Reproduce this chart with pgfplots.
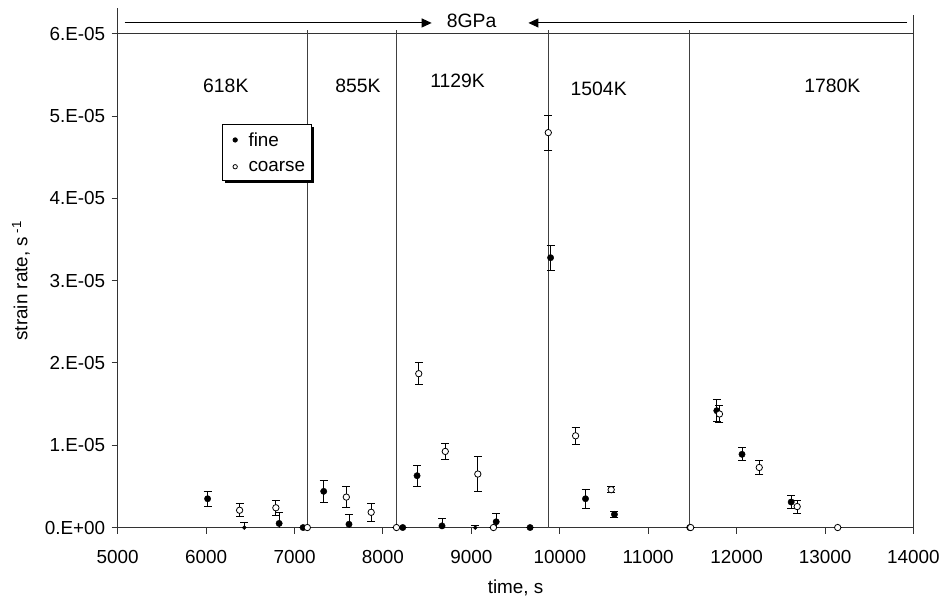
\documentclass[border=0pt]{standalone}
\usepackage{fontspec}
\setmainfont{Liberation Sans}
\usepackage{pgfplots}
\usepackage{pgfplotstable}
\pgfplotsset{compat=1.18}
\usetikzlibrary{arrows.meta,shadows}

\pgfplotstableread{
t v e
6017 3.5e-6 0.9e-6
6826 0.5e-6 1.3e-6
7097 0 0
7330 4.4e-6 1.3e-6
7616 0.4e-6 1.2e-6
8224 0 0
8386 6.3e-6 1.3e-6
8668 0.2e-6 0.9e-6
9281 0.7e-6 1.0e-6
9664 0 0
9896 32.8e-6 1.55e-6
10291 3.5e-6 1.15e-6
10618 1.6e-6 0.4e-6
11470 0 0
11776 14.2e-6 1.35e-6
12061 8.9e-6 0.8e-6
12617 3.1e-6 0.8e-6
}\fine

\pgfplotstableread{
t v e
6379 2.1e-6 0.8e-6
6789 2.4e-6 0.9e-6
7145 0 0
7586 3.7e-6 1.25e-6
7867 1.85e-6 1.1e-6
8153 0 0
8405 18.7e-6 1.35e-6
8705 9.25e-6 1.0e-6
9073 6.5e-6 2.1e-6
9250 0 0
9870 48.0e-6 2.1e-6
10179 11.15e-6 1.0e-6
10581 4.6e-6 0.35e-6
11480 0 0
11806 13.8e-6 1.0e-6
12256 7.3e-6 0.85e-6
12685 2.55e-6 0.8e-6
13143 0 0
}\coarse

\pgfplotstableread{
t v e
6432 0 0.6e-6
9044 0 0.25e-6
}\orphan

\begin{document}
\fontsize{19}{22}\selectfont
\begin{tikzpicture}
\begin{axis}[
  scale only axis, width=798bp, height=495bp,
  xmin=5000, xmax=14000, ymin=0, ymax=6e-5,
  xtick={5000,6000,...,14000},
  ytick={0,1e-5,2e-5,3e-5,4e-5,5e-5,6e-5},
  yticklabels={0.E+00,1.E-05,2.E-05,3.E-05,4.E-05,5.E-05,6.E-05},
  scaled y ticks=false, scaled x ticks=false,
  /pgf/number format/1000 sep={},
  /pgf/number format/assume math mode=true,
  tick label style={font=\fontsize{19}{22}\selectfont, black},
  xticklabel style={yshift=-10bp},
  tick align=outside, major tick length=6bp, tick pos=left,
  axis line style={black!80, line width=1bp},
  tick style={black!80, line width=1bp},
  clip mode=individual,
  xlabel={time, s},
  ylabel={strain rate, s\textsuperscript{ -1}},
  xlabel style={at={([yshift=-61bp]axis description cs:0.5,0)}, anchor=center},
  ylabel style={at={([xshift=-97bp]axis description cs:0,0.5)}, anchor=center},
  legend style={at={(rel axis cs:0.1316,0.818)}, anchor=north west, draw=black, line width=0.8bp,
    fill=white, drop shadow={shadow xshift=2.5bp, shadow yshift=-2.5bp, fill=black, opacity=1},
    font=\fontsize{19}{22}\selectfont, inner xsep=5bp, inner ysep=8bp,
    nodes={inner sep=1bp, text depth=0pt}, row sep=12bp},
  legend cell align=left,
  legend image code/.code={\path (-7bp,0) (12bp,0); \draw[#1, mark size=2.2bp] plot coordinates {(0cm,0cm)};},
]
% temperature boundaries
\pgfplotsinvokeforeach{7148,8157,9870,11471}{
  \draw[black!75, line width=1.1bp] (axis cs:#1,0) -- (axis cs:#1,6.05e-5);
}
\draw[black!80, line width=1bp] (axis cs:5000,6e-5) -- (axis cs:5000,6.315e-5);
\draw[black!80, line width=1bp] (axis cs:14000,6e-5) -- (axis cs:14000,6.23e-5);

\addplot[only marks, mark=*, mark size=3.2bp, mark options={fill=black, draw=black},
  error bars/.cd, y dir=both, y explicit,
  error bar style={black, line width=0.8bp},
  error mark options={rotate=90, mark size=4bp, black, line width=0.8bp}]
  table[x=t, y=v, y error=e] {\fine};
\addlegendentry{fine}
\addplot[only marks, mark=*, mark size=3.2bp, mark options={fill=white, draw=black, line width=0.8bp},
  error bars/.cd, y dir=both, y explicit,
  error bar style={black, line width=0.8bp},
  error mark options={rotate=90, mark size=4bp, black, line width=0.8bp}]
  table[x=t, y=v, y error=e] {\coarse};
\addlegendentry{coarse}
\addplot[only marks, mark=none, forget plot,
  error bars/.cd, y dir=plus, y explicit,
  error bar style={draw=black, line width=0.8bp},
  error mark options={rotate=90, mark size=4bp, black, line width=0.8bp}]
  table[x=t, y=v, y error=e] {\orphan};

\draw[black, line width=1bp, -{Triangle[length=10bp,width=9bp]}] (axis cs:5079,6.133e-5) -- (axis cs:8551,6.133e-5);
\draw[black, line width=1bp, -{Triangle[length=10bp,width=9bp]}] (axis cs:13929,6.133e-5) -- (axis cs:9645,6.133e-5);
\node[font=\fontsize{19.5}{22}\selectfont] at (axis cs:9002,6.16e-5) {8GPa};
\node[font=\fontsize{19.5}{22}\selectfont] at (axis cs:6223,5.37e-5) {618K};
\node[font=\fontsize{19.5}{22}\selectfont] at (axis cs:7717,5.364e-5) {855K};
\node[font=\fontsize{19.5}{22}\selectfont] at (axis cs:8844,5.424e-5) {1129K};
\node[font=\fontsize{19.5}{22}\selectfont] at (axis cs:10440,5.333e-5) {1504K};
\node[font=\fontsize{19.5}{22}\selectfont] at (axis cs:13083,5.37e-5) {1780K};
\end{axis}
\path ([xshift=-118bp,yshift=-74bp]current axis.south west) rectangle ([xshift=30bp,yshift=34bp]current axis.north east);
\end{tikzpicture}
\end{document}
